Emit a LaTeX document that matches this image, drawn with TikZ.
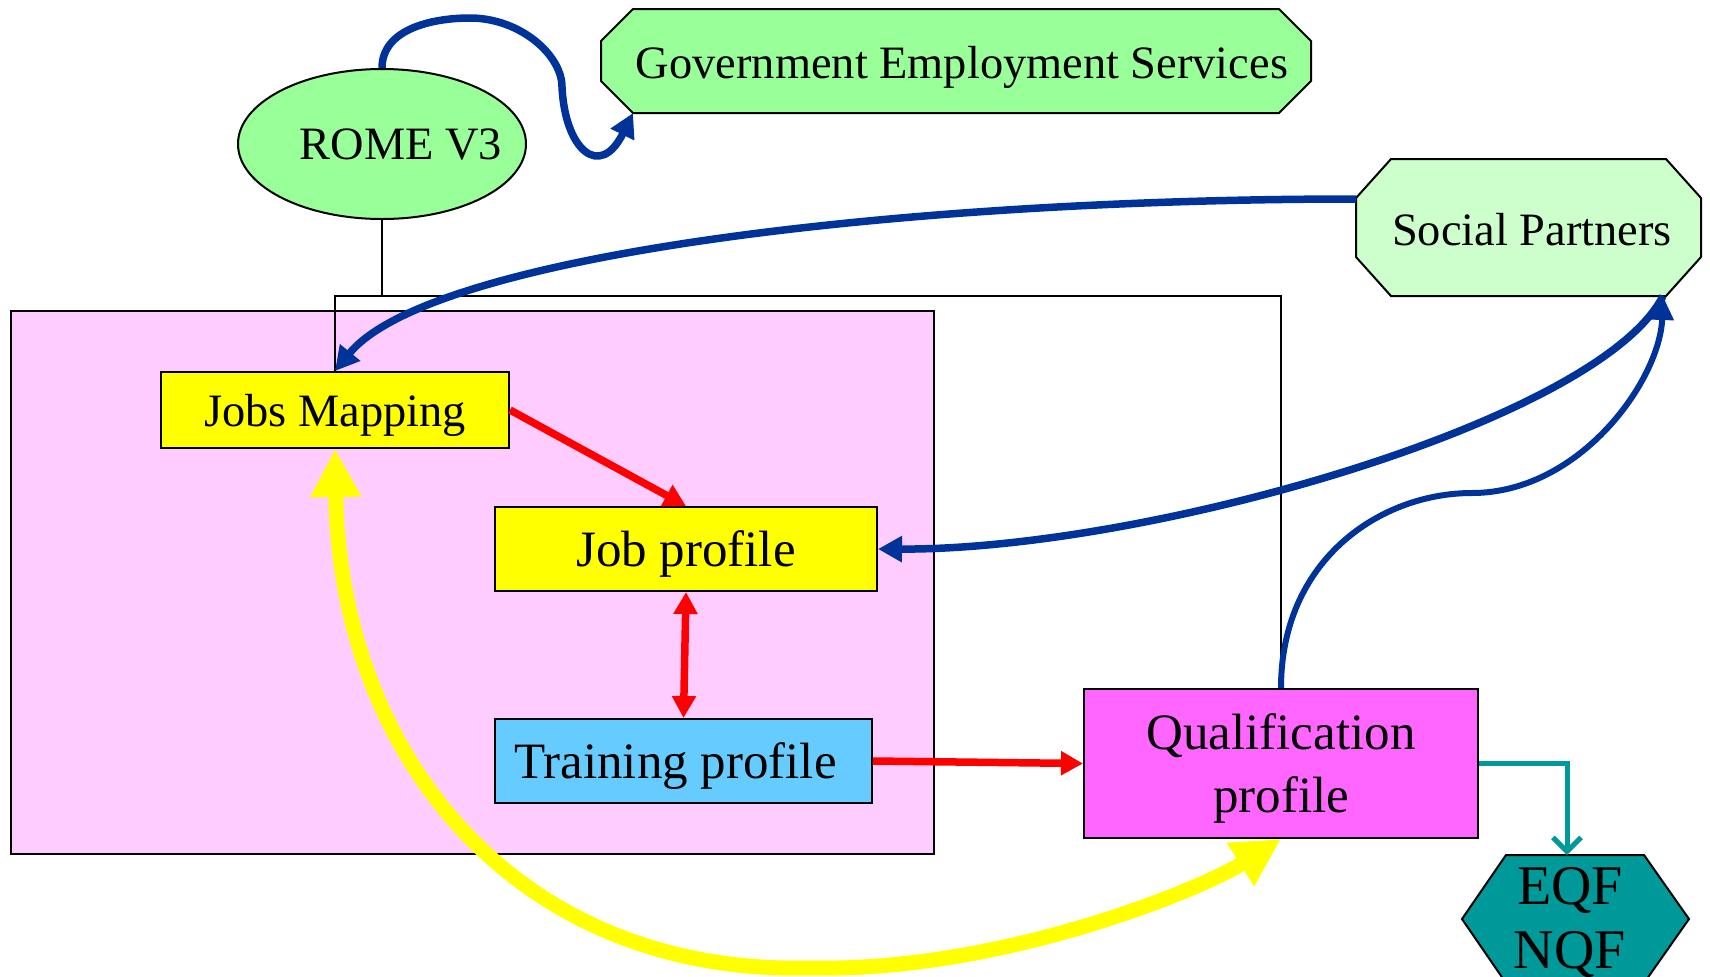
\documentclass[tikz,border=0pt]{standalone}
\usepackage{fontspec}
\setmainfont{Liberation Serif}
\usetikzlibrary{arrows.meta,shapes.geometric,calc}
\definecolor{gesgreen}{HTML}{99FF99}
\definecolor{spgreen}{HTML}{CCFFCC}
\definecolor{pinkbg}{HTML}{FFCCFF}
\definecolor{boxyellow}{HTML}{FFFF00}
\definecolor{trainblue}{HTML}{66CCFF}
\definecolor{qualpink}{HTML}{FF66FF}
\definecolor{tealc}{HTML}{009999}
\definecolor{arrowblue}{HTML}{003399}
\definecolor{arrowred}{HTML}{FF0000}
\begin{document}
\begin{tikzpicture}[x=0.5pt,y=-0.5pt,
  outline/.style={draw=black,line width=1pt},
  smalltxt/.style={font=\fontsize{23.2}{28}\selectfont,text depth=0pt},
  bigtxt/.style={font=\fontsize{25.5}{31.5}\selectfont,text depth=0pt},
  hextxt/.style={font=\fontsize{28}{32}\selectfont},
  boxnode/.style={outline,inner sep=0pt,align=center},
  thinline/.style={draw=black,line width=1pt},
  bluearrow/.style={draw=arrowblue,line width=3.75pt,-{Triangle[length=12pt,width=12.5pt]}},
  redarrow/.style={draw=arrowred,line width=3.75pt,-{Triangle[length=11pt,width=11.5pt]}},
  redboth/.style={draw=arrowred,line width=3.75pt,{Triangle[length=11pt,width=11.5pt]}-{Triangle[length=11pt,width=11.5pt]}},
  yellowboth/.style={draw=boxyellow,line width=7.5pt,{Triangle[length=24pt,width=24pt]}-{Triangle[length=24pt,width=24pt]}},
  tealarrow/.style={draw=tealc,line width=2.5pt,-{Straight Barb[length=7pt,width=14pt]}}
]
\useasboundingbox (0,0) rectangle (1710,976);
\fill[white] (0,0) rectangle (1710,976);

% pink region
\draw[outline,fill=pinkbg] (11,311) rectangle (934,854);

% octagons and hexagon
\draw[outline,fill=gesgreen] (633,9) -- (1279,9) -- (1311,41) -- (1311,81) -- (1279,113) -- (633,113) -- (601,81) -- (601,41) -- cycle;
\coordinate (govcorner) at (633,113);
\node[smalltxt] (gov) at (962,62) {Government Employment Services};

\draw[outline,fill=spgreen] (1391,159) -- (1666,159) -- (1701,198) -- (1701,257) -- (1666,296) -- (1391,296) -- (1356,257) -- (1356,198) -- cycle;
\coordinate (spleft) at (1356,199);
\coordinate (spcorner) at (1663,296);
\node[smalltxt] (sp) at (1532,229) {Social Partners};

\draw[outline,fill=tealc] (1462,919) -- (1506,855) -- (1644,855) -- (1689,919) -- (1644,983) -- (1506,983) -- cycle;
\coordinate (hextop) at (1567,855);
\node[hextxt,align=center,inner sep=0pt] (hex) at (1570,922) {EQF\\NQF};

% ROME ellipse
\node[ellipse,outline,fill=gesgreen,minimum width=144pt,minimum height=75pt,inner sep=0pt] (rome) at (382,144) {};
\node[smalltxt] (romelabel) at (401,144) {ROME V3};

% boxes
\node[boxnode,fill=boxyellow,smalltxt,minimum width=174pt,minimum height=38pt] (jm) at (335,410) {Jobs Mapping};
\node[boxnode,fill=boxyellow,bigtxt,minimum width=191pt,minimum height=42pt] (jp) at (686,549) {Job profile};
\node[boxnode,fill=trainblue,bigtxt,minimum width=188.5pt,minimum height=42pt] (tp) at (683.5,761) {\hspace*{-8pt}Training profile};
\node[boxnode,fill=qualpink,bigtxt,minimum width=197pt,minimum height=74.5pt] (qp) at (1281,763.5) {Qualification\\profile};

% thin connector lines
\coordinate (bus) at (382,296);
\draw[thinline] (rome.south) -- (bus);
\draw[thinline] (jm.north) |- (bus) -| (qp.north);

% red arrows
\draw[redarrow] (jm.east) -- (jp.north);
\draw[redboth] (jp.south) -- (tp.north);
\draw[redarrow] (tp.east) -- (qp.west);

% yellow double arrow
\draw[yellowboth] (qp.south) .. controls (1200,890) and (1000,972) .. (810,968)
  .. controls (520,975) and (340,760) .. (jm.south);

% blue arrows
\draw[bluearrow] (rome.north) .. controls (382,30) and (430,18) .. (470,18)
  .. controls (520,18) and (562,55) .. (562,87)
  .. controls (565,150) and (600,180) .. (govcorner);
\draw[bluearrow] (spleft) .. controls (900,199) and (430,255) .. (jm.north);
\draw[bluearrow] (spcorner) .. controls (1600,420) and (1150,550) .. (jp.east);
\draw[draw=arrowblue,line width=3pt,-{Triangle[length=12pt,width=11pt]}] (qp.north) .. controls (1281,560) and (1380,493) .. (1472,493)
  .. controls (1580,493) and (1660,380) .. (spcorner);

% teal arrow
\draw[tealarrow] (qp.east) -| (hextop);
\end{tikzpicture}
\end{document}
